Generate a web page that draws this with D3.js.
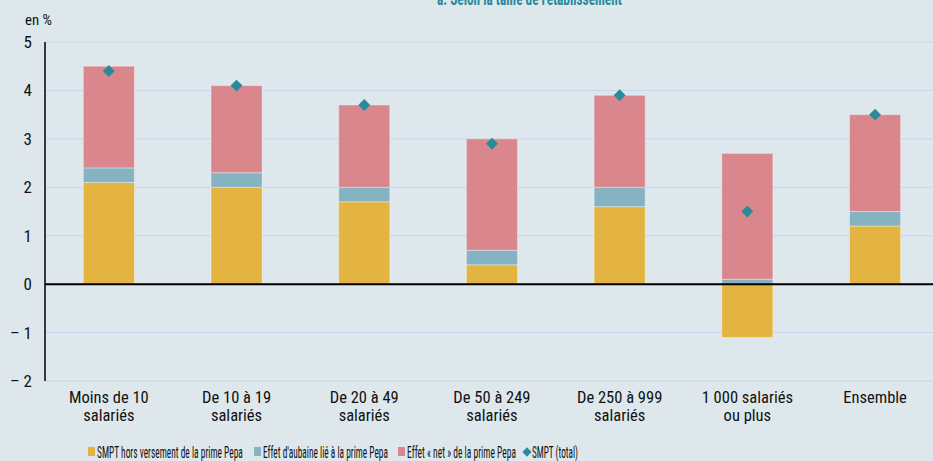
<!DOCTYPE html>
<html>
<head>
<meta charset="utf-8">
<script src="https://cdn.jsdelivr.net/npm/d3@7"></script>
<style>
  html, body { margin: 0; padding: 0; background: #dee8ec; }
  svg { display: block; font-family: "Liberation Sans Narrow", "Roboto Condensed", "Liberation Sans", sans-serif; }
</style>
</head>
<body>
<svg id="chart" width="933" height="461"></svg>
<script>
// categories (two-line labels)
const categories = [
  ['Moins de 10', 'salariés'],
  ['De 10 à 19', 'salariés'],
  ['De 20 à 49', 'salariés'],
  ['De 50 à 249', 'salariés'],
  ['De 250 à 999', 'salariés'],
  ['1 000 salariés', 'ou plus'],
  ['Ensemble']
];
const smptHors = [2.1, 2.0, 1.7, 0.4, 1.6, -1.1, 1.2];
const effetAubaine = [0.3, 0.3, 0.3, 0.3, 0.4, 0.1, 0.3];
const effetNet = [2.1, 1.8, 1.7, 2.3, 1.9, 2.6, 2.0];
const smptTotal = [4.4, 4.1, 3.7, 2.9, 3.9, 1.5, 3.5];
const yTicks = [-2, -1, 0, 1, 2, 3, 4, 5];
const seriesNames = [
  'SMPT hors versement de la prime Pepa',
  "Effet d'aubaine lié à la prime Pepa",
  'Effet « net » de la prime Pepa',
  'SMPT (total)'
];
const colors = ['#e3b441', '#85b3c2', '#d9878d', '#2a8a9c'];

const svg = d3.select('#chart');
const W = 933;
const plotLeft = 45, plotTop = 42, plotBottom = 381;

// squeeze a text horizontally so it spans `w` pixels (condensed look)
function fitText(sel, x0, y0, w) {
  const natural = sel.node().getComputedTextLength();
  const sx = natural > 0 ? w / natural : 1;
  sel.attr('x', 0).attr('y', 0)
    .attr('transform', `translate(${x0},${y0}) scale(${sx},1)`);
}

const x = d3.scaleBand()
  .domain(d3.range(categories.length))
  .range([plotLeft, plotLeft + 127.7 * categories.length])
  .paddingInner(0.6)
  .paddingOuter(0.3);

const y = d3.scaleLinear().domain([-2, 5]).range([plotBottom, plotTop]);

// title (mostly cut off at the top, as in the source)
const title = svg.append('text')
  .attr('font-weight', 'bold')
  .attr('font-size', 18)
  .attr('fill', '#2a8a9c')
  .text("a. Selon la taille de l'établissement");
fitText(title, 437, 5, 185);

const unit = svg.append('text')
  .attr('font-size', 15)
  .attr('fill', '#111')
  .text('en %');
fitText(unit, 25, 25, 27);

// grid
svg.append('g').selectAll('line')
  .data(yTicks.filter(d => d !== 0))
  .enter().append('line')
  .attr('x1', plotLeft).attr('x2', W)
  .attr('y1', d => y(d)).attr('y2', d => y(d))
  .attr('stroke', '#c3d6ee')
  .attr('stroke-width', 1);

// y axis labels
const fmt = d => d < 0 ? '\u2013 ' + Math.abs(d) : String(d);
svg.append('g').selectAll('text')
  .data(yTicks)
  .enter().append('text')
  .attr('x', 32)
  .attr('y', d => y(d) + 6)
  .attr('text-anchor', 'end')
  .attr('font-size', 17)
  .attr('fill', '#111')
  .text(fmt);

// stacked bars
const rows = categories.map((c, i) => {
  const segs = [];
  const vals = [smptHors[i], effetAubaine[i], effetNet[i]];
  let pos = 0, neg = 0;
  vals.forEach((v, k) => {
    if (v >= 0) { segs.push({ k, y0: pos, y1: pos + v }); pos += v; }
    else { segs.push({ k, y0: neg + v, y1: neg }); neg += v; }
  });
  return { i, segs };
});

const bars = svg.append('g');
rows.forEach(r => {
  bars.selectAll(null)
    .data(r.segs)
    .enter().append('rect')
    .attr('x', x(r.i))
    .attr('width', x.bandwidth())
    .attr('y', d => y(d.y1))
    .attr('height', d => y(d.y0) - y(d.y1))
    .attr('fill', d => colors[d.k])
    .attr('stroke', 'rgba(255,255,255,0.35)')
    .attr('stroke-width', 1);
});

// axes lines
svg.append('line')
  .attr('x1', plotLeft).attr('x2', W)
  .attr('y1', y(0)).attr('y2', y(0))
  .attr('stroke', '#000').attr('stroke-width', 2);
svg.append('line')
  .attr('x1', plotLeft).attr('x2', plotLeft)
  .attr('y1', y(5)).attr('y2', y(-2))
  .attr('stroke', '#000').attr('stroke-width', 1.5);

// diamonds
svg.append('g').selectAll('path')
  .data(smptTotal)
  .enter().append('path')
  .attr('transform', (d, i) => `translate(${x(i) + x.bandwidth() / 2},${y(d)})`)
  .attr('d', d3.symbol(d3.symbolDiamond2, 90))
  .attr('fill', colors[3]);

// x labels
const xl = svg.append('g').selectAll('text')
  .data(categories)
  .enter().append('text')
  .attr('x', (d, i) => x(i) + x.bandwidth() / 2)
  .attr('y', 403)
  .attr('text-anchor', 'middle')
  .attr('font-size', 16.5)
  .attr('fill', '#111');
xl.each(function(d) {
  const t = d3.select(this);
  d.forEach((line, j) => {
    t.append('tspan')
      .attr('x', t.attr('x'))
      .attr('dy', j === 0 ? 0 : 18)
      .text(line);
  });
});

// legend
const legX = [88, 254, 398, 527];
const legW = [146, 125, 109, 46];
const leg = svg.append('g');
seriesNames.forEach((name, k) => {
  if (k < 3) {
    leg.append('rect')
      .attr('x', legX[k]).attr('y', 447)
      .attr('width', 7).attr('height', 9)
      .attr('fill', colors[k]);
  } else {
    leg.append('path')
      .attr('transform', `translate(${legX[k]},452)`)
      .attr('d', d3.symbol(d3.symbolDiamond2, 55))
      .attr('fill', colors[k]);
  }
  const t = leg.append('text')
    .attr('font-size', 16.5).attr('fill', '#111')
    .text(name);
  fitText(t, legX[k] + (k < 3 ? 9 : 5), 458, legW[k]);
});
</script>
</body>
</html>
